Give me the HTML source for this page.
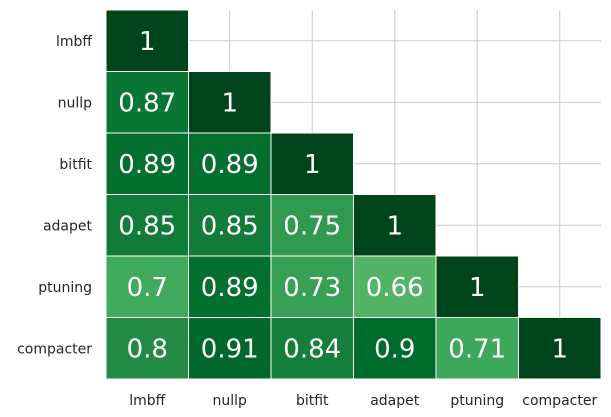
<!DOCTYPE html>
<html><head><meta charset="utf-8">
<style>
body{margin:0;background:#fff;}
svg{display:block;font-family:"DejaVu Sans","Liberation Sans",sans-serif;}
</style></head>
<body>
<svg id="chart" width="611" height="417" viewBox="0 0 611 417" xmlns="http://www.w3.org/2000/svg">
<g id="grid"></g>
<g id="cells"></g>
<g id="xlabels"></g>
<g id="ylabels"></g>
</svg>
<script>
const categories = ["lmbff","nullp","bitfit","adapet","ptuning","compacter"];
const rowLmbff = [1];
const rowNullp = [0.87,1];
const rowBitfit = [0.89,0.89,1];
const rowAdapet = [0.85,0.85,0.75,1];
const rowPtuning = [0.7,0.89,0.73,0.66,1];
const rowCompacter = [0.8,0.91,0.84,0.9,0.71,1];
const rows = [rowLmbff,rowNullp,rowBitfit,rowAdapet,rowPtuning,rowCompacter];

const NS="http://www.w3.org/2000/svg";
const x0=106,x1=601,y0=10,y1=379,n=categories.length;
const cw=(x1-x0)/n,ch=(y1-y0)/n;
const xScale=i=>x0+i*cw, yScale=i=>y0+i*ch;
const vmin=0.19,vmax=1;
const stops=[[0,[247,252,245]],[0.125,[229,245,224]],[0.25,[199,233,192]],[0.375,[161,217,155]],[0.5,[116,196,118]],[0.625,[65,171,93]],[0.75,[35,139,69]],[0.875,[0,109,44]],[1,[0,68,27]]];
function color(v){let t=Math.max(0,Math.min(1,(v-vmin)/(vmax-vmin)));
 for(let k=1;k<stops.length;k++){if(t<=stops[k][0]){const a=stops[k-1],b=stops[k];const f=(t-a[0])/(b[0]-a[0]);
 const c=a[1].map((x,j)=>Math.round(x+(b[1][j]-x)*f));return `rgb(${c.join(',')})`;}}return 'rgb(0,68,27)';}
function mk(tag,attrs,parent){const e=document.createElementNS(NS,tag);for(const k in attrs)e.setAttribute(k,attrs[k]);parent.appendChild(e);return e;}
const grid=document.getElementById('grid'),cells=document.getElementById('cells'),xl=document.getElementById('xlabels'),yl=document.getElementById('ylabels');
for(let i=0;i<n;i++){
 const gx=mk('line',{x1:xScale(i)+cw/2,x2:xScale(i)+cw/2,y1:y0,y2:y1,stroke:'#cccccc','stroke-width':1},grid);
 
 
 const gy=mk('line',{x1:x0,x2:x1,y1:yScale(i)+ch/2,y2:yScale(i)+ch/2,stroke:'#cccccc','stroke-width':1},grid);
 
 
}
rows.forEach((r,i)=>{r.forEach((v,j)=>{
 const rc=mk('rect',{x:xScale(j),y:yScale(i),width:cw,height:ch,fill:color(v),stroke:'#fff','stroke-width':1},cells);
 
 
 const t=mk('text',{x:xScale(j)+cw/2,y:yScale(i)+ch/2+9,'text-anchor':'middle','font-size':26,fill:'#fff'},cells);
 t.textContent=String(v);
 
 
});});
categories.forEach((c,i)=>{
 const t=mk('text',{x:xScale(i)+cw/2,y:405,'text-anchor':'middle','font-size':14,fill:'#262626'},xl);
 t.textContent=c;
 
 
 const u=mk('text',{x:92,y:yScale(i)+ch/2+5,'text-anchor':'end','font-size':14,fill:'#262626'},yl);
 u.textContent=c;
 
 
});
</script>
</body></html>
